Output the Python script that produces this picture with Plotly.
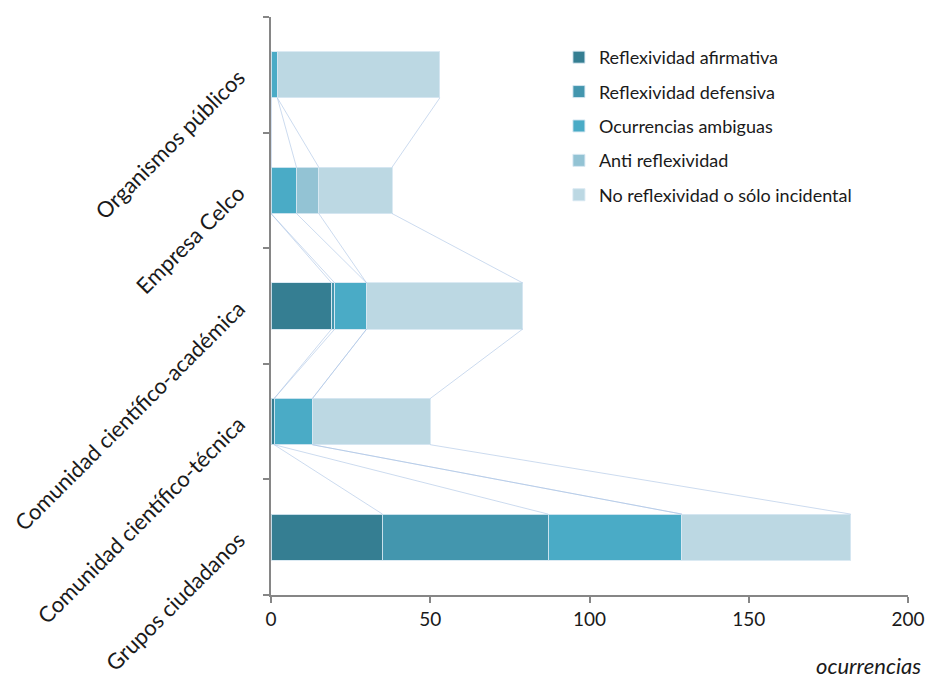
import plotly.graph_objects as go

# Categories listed bottom to top
categories = [
    "Grupos ciudadanos",
    "Comunidad científico-técnica",
    "Comunidad científico-académica",
    "Empresa Celco",
    "Organismos públicos",
]

series_names = [
    "Reflexividad afirmativa",
    "Reflexividad defensiva",
    "Ocurrencias ambiguas",
    "Anti reflexividad",
    "No reflexividad o sólo incidental",
]

afirmativa = [35, 1, 19, 0, 0]
defensiva = [52, 0, 1, 0, 0]
ambiguas = [42, 12, 10, 8, 2]
anti = [0, 0, 0, 7, 0]
no_reflex = [53, 37, 49, 23, 51]

x_ticks = [0, 50, 100, 150, 200]

series_values = [afirmativa, defensiva, ambiguas, anti, no_reflex]
colors = ["#357e92", "#4396ae", "#4aabc6", "#93c3d4", "#bcd8e3"]

FONT = "Lato"
BAR_W = 0.4
ypos = list(range(len(categories)))

fig = go.Figure()

# Series lines joining the end of each segment between neighbouring bars
cum = [0] * len(categories)
for vals in series_values:
    cum = [c + v for c, v in zip(cum, vals)]
    lx, ly = [], []
    for i in range(len(categories) - 1):
        lx += [cum[i], cum[i + 1], None]
        ly += [i + BAR_W / 2, i + 1 - BAR_W / 2, None]
    fig.add_trace(go.Scatter(
        x=lx, y=ly, mode="lines",
        line=dict(color="rgba(170,195,228,0.75)", width=0.8),
        showlegend=False, hoverinfo="skip",
    ))

for k, (name, vals, col) in enumerate(zip(series_names, series_values, colors)):
    fig.add_trace(go.Bar(
        y=ypos, x=vals, name=name, orientation="h",
        width=BAR_W,
        marker=dict(color=col, line=dict(color="rgba(215,232,242,0.9)", width=1)),
        legendgroup=f"g{k}",
    ))

fig.update_layout(
    width=929, height=680,
    margin=dict(l=271, r=21, t=17, b=85),
    barmode="stack",
    plot_bgcolor="white", paper_bgcolor="white",
    font=dict(family=FONT, size=18, color="#1a1a1a"),
    legend=dict(
        x=0.452, y=0.962, xanchor="left", yanchor="top",
        traceorder="grouped", tracegroupgap=8,
        font=dict(size=18, family=FONT, color="#1a1a1a"),
        itemwidth=30, bgcolor="rgba(0,0,0,0)",
    ),
    xaxis=dict(
        range=[0, 200], tickvals=x_ticks, ticks="outside", ticklen=6,
        tickcolor="#868686", tickwidth=1.5,
        showline=True, linecolor="#868686", linewidth=2,
        showgrid=False, zeroline=False, automargin=False,
        tickfont=dict(size=19, family=FONT),
    ),
    yaxis=dict(
        range=[-0.5, len(categories) - 0.5],
        tickvals=ypos, ticktext=categories, ticks="",
        tickangle=-45, tickfont=dict(size=22, family=FONT),
        showline=True, linecolor="#868686", linewidth=2,
        showgrid=False, zeroline=False, automargin=False,
        ticklabelstandoff=26,
        minor=dict(
            tickvals=[i - 0.5 for i in range(len(categories) + 1)],
            ticks="outside", ticklen=6, tickcolor="#868686", tickwidth=1.5,
            showgrid=False,
        ),
    ),
)

fig.add_annotation(
    text="<i>ocurrencias</i>", xref="paper", yref="paper",
    x=1, y=0, xanchor="right", yanchor="middle",
    xshift=15, yshift=-70, showarrow=False,
    font=dict(size=22, family=FONT, color="#1a1a1a"),
)

fig.write_html("out.html")
